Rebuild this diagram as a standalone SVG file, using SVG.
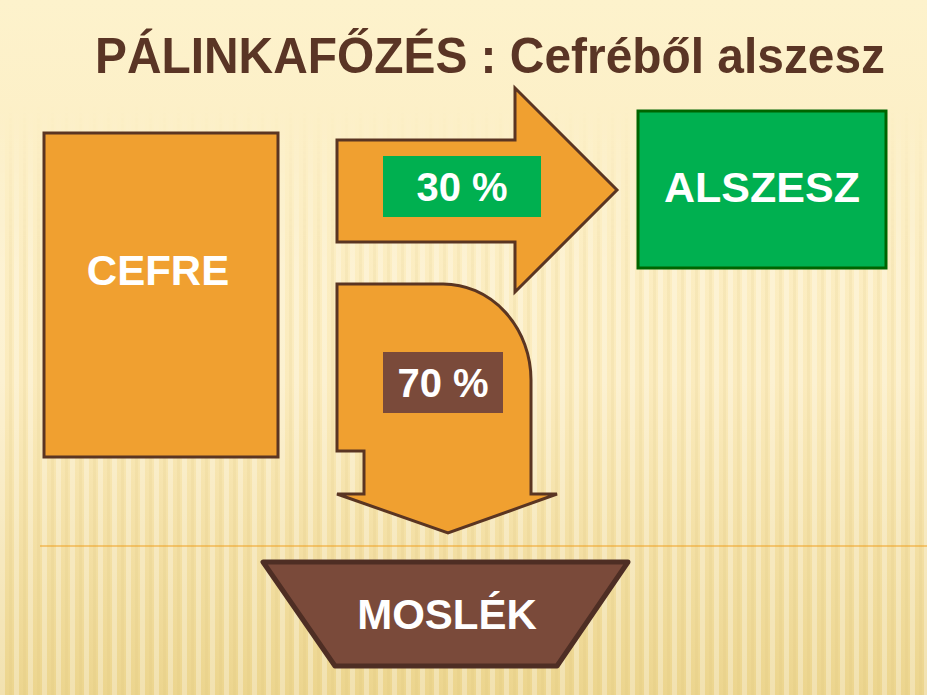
<svg xmlns="http://www.w3.org/2000/svg" width="927" height="695" viewBox="0 0 927 695">
<defs>
<linearGradient id="bg" x1="0" y1="0" x2="0" y2="1">
<stop offset="0" stop-color="#fdf2cc"/>
<stop offset="0.55" stop-color="#fbebbd"/>
<stop offset="1" stop-color="#ecd58e"/>
</linearGradient>
<pattern id="stripes" width="14" height="695" patternUnits="userSpaceOnUse">
<rect x="0" y="0" width="5" height="695" fill="#ffffff" opacity="0.3"/>
<rect x="9" y="0" width="3" height="695" fill="#d9bf75" opacity="0.12"/>
</pattern>
<linearGradient id="fade" x1="0" y1="0" x2="0" y2="1">
<stop offset="0" stop-color="#fff" stop-opacity="0"/>
<stop offset="0.15" stop-color="#fff" stop-opacity="0"/>
<stop offset="0.4" stop-color="#fff" stop-opacity="1"/>
<stop offset="1" stop-color="#fff" stop-opacity="1"/>
</linearGradient>
<mask id="m"><rect width="927" height="695" fill="url(#fade)"/></mask>
</defs>
<style>
.lbl{font-family:"Liberation Sans",Arial,sans-serif;font-weight:bold;fill:#ffffff;text-anchor:middle}
.org{fill:#f0a030;stroke:#5a3522;stroke-width:3;stroke-linejoin:miter}
</style>
<rect width="927" height="695" fill="url(#bg)"/>
<rect width="927" height="695" fill="url(#stripes)" mask="url(#m)"/>
<line x1="40" y1="546" x2="927" y2="546" stroke="#f0a020" stroke-width="1.2"/>
<text x="95" y="73" textLength="790" lengthAdjust="spacingAndGlyphs" font-family="Liberation Sans, Arial, sans-serif" font-weight="bold" font-size="50" fill="#5a3525">PÁLINKAFŐZÉS : Cefréből alszesz</text>
<g id="cefre">
<rect class="org" x="44" y="133" width="234" height="324"/>
<text class="lbl" x="158" y="285" font-size="42">CEFRE</text>
</g>
<g id="connectors">
<g id="arrow30">
<path class="org" d="M337,140 L515,140 L515,88 L617,190 L515,292 L515,242 L337,242 Z"/>
<rect x="383" y="156" width="158" height="61" fill="#00b050"/>
<text class="lbl" x="462" y="201" font-size="40">30 %</text>
</g>
<g id="arrow70">
<path class="org" d="M337,284 L443,284 A88,96 0 0 1 531,380 L531,494 L557,494 L448,533 L337,494 L364,494 L364,451 L337,451 Z"/>
<rect x="383" y="352" width="120" height="61" fill="#7a4a3a"/>
<text class="lbl" x="443" y="397" font-size="40">70 %</text>
</g>
</g>
<g id="alszesz">
<rect x="638" y="111" width="248" height="157" fill="#00b050" stroke="#006400" stroke-width="3"/>
<text class="lbl" x="762" y="202" font-size="43">ALSZESZ</text>
</g>
<g id="moslek">
<path d="M263,562 L628,562 L557,666 L335,666 Z" fill="#7a4a3a" stroke="#4e2e24" stroke-width="5" stroke-linejoin="round"/>
<text class="lbl" x="447" y="629" font-size="42">MOSLÉK</text>
</g>
</svg>
